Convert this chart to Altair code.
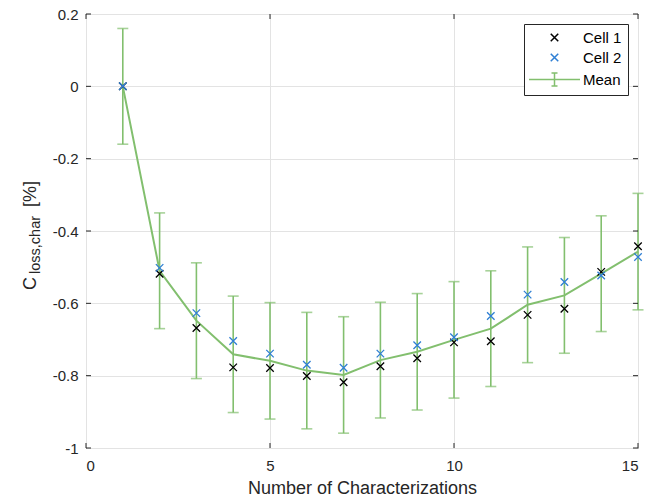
import altair as alt
import pandas as pd

# Capacity loss per characterization for two cells and their mean (+/- std)
characterization = list(range(1, 16))
cell1 = [0.0, -0.518, -0.668, -0.777, -0.779, -0.801, -0.818, -0.774,
         -0.752, -0.708, -0.705, -0.632, -0.615, -0.513, -0.442]
cell2 = [0.0, -0.502, -0.627, -0.704, -0.739, -0.770, -0.778, -0.739,
         -0.716, -0.694, -0.635, -0.576, -0.541, -0.523, -0.472]
mean = [0.0, -0.510, -0.648, -0.741, -0.759, -0.786, -0.798, -0.757,
        -0.734, -0.701, -0.670, -0.604, -0.578, -0.518, -0.457]
std = [0.160, 0.160, 0.160, 0.161, 0.161, 0.161, 0.161, 0.160,
       0.161, 0.161, 0.160, 0.160, 0.160, 0.160, 0.161]

x_ticks = [0, 5, 10, 15]
y_ticks = [-1, -0.8, -0.6, -0.4, -0.2, 0, 0.2]

series_names = ["Cell 1", "Cell 2", "Mean"]

GREEN = "#82bf6e"
BLUE = "#2f7fd4"
DARK = "#262626"
FONT = "Liberation Sans"
W, H = 552, 434

mean_df = pd.DataFrame({"n": characterization, "mean": mean, "std": std})
cells_df = pd.concat([
    pd.DataFrame({"n": characterization, "value": cell1, "series": "Cell 1"}),
    pd.DataFrame({"n": characterization, "value": cell2, "series": "Cell 2"}),
])

x_scale = alt.Scale(domain=[0, 15], nice=False, zero=False)
y_scale = alt.Scale(domain=[-1, 0.2], nice=False, zero=False)

x_enc = alt.X("n:Q", scale=x_scale,
              axis=alt.Axis(values=x_ticks, title="Number of Characterizations",
                            format="d", ticks=False, tickSize=0, domain=False,
                            labelPadding=10, titlePadding=6))
y_axis = alt.Axis(values=y_ticks, title=None, ticks=False, tickSize=0,
                  domain=False, labelPadding=8, labelExpr="'' + datum.value")

base_mean = alt.Chart(mean_df).transform_calculate(
    lo="datum.mean - datum.std", hi="datum.mean + datum.std"
)

err_rule = base_mean.mark_rule(color=GREEN, strokeWidth=1.6).encode(
    x=x_enc,
    y=alt.Y("lo:Q", scale=y_scale, axis=y_axis),
    y2="hi:Q",
)
cap_lo = base_mean.mark_tick(orient="horizontal", color=GREEN, size=11,
                             thickness=1.6).encode(
    x="n:Q", y=alt.Y("lo:Q", scale=y_scale))
cap_hi = base_mean.mark_tick(orient="horizontal", color=GREEN, size=11,
                             thickness=1.6).encode(
    x="n:Q", y=alt.Y("hi:Q", scale=y_scale))

mean_line = alt.Chart(mean_df).mark_line(color=GREEN, strokeWidth=2).encode(
    x="n:Q", y=alt.Y("mean:Q", scale=y_scale))

# Marker paths: an "x" for the cells, a line with an error bar for the mean
X_PATH = "M-0.75,-0.75L0.75,0.75M-0.75,0.75L0.75,-0.75"
MEAN_PATH = ("M-5.1,0L5.1,0M0,-1.3L0,1.3"
             "M-0.6,-1.3L0.6,-1.3M-0.6,1.3L0.6,1.3")

legend = alt.Legend(
    title=None, orient="top-right", offset=10,
    strokeColor=DARK, fillColor="white", padding=6, cornerRadius=0,
    labelFont=FONT, labelFontSize=15, labelColor="black", labelAlign="left",
    symbolSize=100, symbolStrokeWidth=1.5, symbolOffset=17, labelOffset=21,
    rowPadding=4,
)

points = alt.Chart(cells_df).mark_point(filled=False, strokeWidth=1.3,
                                        size=100, opacity=1).encode(
    x="n:Q",
    y=alt.Y("value:Q", scale=y_scale),
    color=alt.Color("series:N",
                    scale=alt.Scale(domain=series_names,
                                    range=["black", BLUE, GREEN]),
                    legend=legend),
    shape=alt.Shape("series:N",
                    scale=alt.Scale(domain=series_names,
                                    range=[X_PATH, X_PATH, MEAN_PATH]),
                    legend=legend),
)

# Inward tick marks on all four sides of the box
xt_df = pd.DataFrame({"t": x_ticks})
yt_df = pd.DataFrame({"t": y_ticks})
tick_style = dict(color=DARK, strokeWidth=1)
xt_bottom = alt.Chart(xt_df).mark_rule(**tick_style).encode(
    x=alt.X("t:Q", scale=x_scale), y=alt.value(H), y2=alt.value(H - 5))
xt_top = alt.Chart(xt_df).mark_rule(**tick_style).encode(
    x=alt.X("t:Q", scale=x_scale), y=alt.value(0), y2=alt.value(5))
yt_left = alt.Chart(yt_df).mark_rule(**tick_style).encode(
    y=alt.Y("t:Q", scale=y_scale), x=alt.value(0), x2=alt.value(5))
yt_right = alt.Chart(yt_df).mark_rule(**tick_style).encode(
    y=alt.Y("t:Q", scale=y_scale), x=alt.value(W), x2=alt.value(W - 5))

# Y-axis title with a subscript, built from rotated text pieces
def ylabel_piece(text, size, x, y):
    return alt.Chart(pd.DataFrame({"s": [text]})).mark_text(
        angle=270, align="left", baseline="alphabetic",
        font=FONT, fontSize=size, color=DARK,
    ).encode(text="s:N", x=alt.value(x), y=alt.value(y))

ytitle = (ylabel_piece("C", 18, -50, 276)
          + ylabel_piece("loss,char", 14.5, -46, 260)
          + ylabel_piece("[%]", 18, -50, 193))

chart = alt.layer(
    err_rule, cap_lo, cap_hi, mean_line, points,
    xt_bottom, xt_top, yt_left, yt_right, ytitle,
).properties(
    width=W, height=H,
    autosize=alt.AutoSizeParams(type="none"),
    padding={"left": 86, "top": 14, "right": 26, "bottom": 54},
    background="white",
).configure_view(
    stroke=DARK, strokeWidth=1
).configure_axis(
    grid=True, gridColor="#e3e3e3", gridWidth=1,
    labelFont=FONT, labelFontSize=15, labelColor=DARK,
    titleFont=FONT, titleFontSize=18, titleFontWeight="normal", titleColor=DARK,
)

chart.save("out.html", embed_options={"renderer": "svg", "actions": False})
